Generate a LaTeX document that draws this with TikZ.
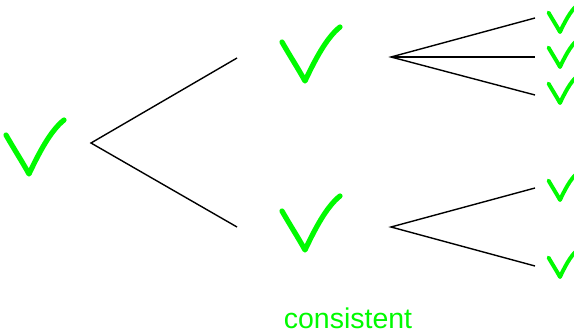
\documentclass[tikz,border=0pt]{standalone}
\usepackage{fontspec}
\setsansfont{Liberation Sans}
\definecolor{tickgreen}{RGB}{0,250,0}
\begin{document}
\begin{tikzpicture}[x=1pt,y=-1pt,
  branch/.style={draw=black,line width=1.4pt},
  checkstroke/.style={draw=tickgreen,line cap=round,line join=round},
  bigtick/.style={line width=5.2pt},
  smalltick/.style={line width=3.9pt,scale=0.5},
  tick/.pic={\path[checkstroke,pic actions]
      (-23,-39) .. controls (-15,-25) and (-6,-11) .. (0,0)
      .. controls (9,-19) and (21,-43) .. (35,-54);},
  label/.style={text=tickgreen,font=\sffamily\fontsize{28.5}{32}\selectfont,
    inner sep=0pt,text depth=0pt,anchor=base}
]
\useasboundingbox (0,0) rectangle (574,332);

% check marks: root, second level, leaves
\pic[bigtick] at (29,174) {tick};
\pic[bigtick] at (305,81) {tick};
\pic[bigtick] at (305,250) {tick};
\pic[smalltick] at (560,32) {tick};
\pic[smalltick] at (560,67) {tick};
\pic[smalltick] at (560,103) {tick};
\pic[smalltick] at (560,200) {tick};
\pic[smalltick] at (560,277) {tick};

% branch points
\coordinate (r)   at (91,143);
\coordinate (a)   at (237,58);
\coordinate (b)   at (237,227);
\coordinate (a0)  at (391,57);
\coordinate (b0)  at (391,227);
\coordinate (a1)  at (535,18);
\coordinate (a2)  at (535,57);
\coordinate (a3)  at (535,95);
\coordinate (b1)  at (535,188);
\coordinate (b2)  at (535,266);

\draw[branch] (a) -- (r) -- (b);
\draw[branch] (a1) -- (a0) -- (a3);
\draw[branch] (a0) -- (a2);
\draw[branch] (b1) -- (b0) -- (b2);

\node[label] (cons) at (348,328) {consistent};
\end{tikzpicture}
\end{document}
